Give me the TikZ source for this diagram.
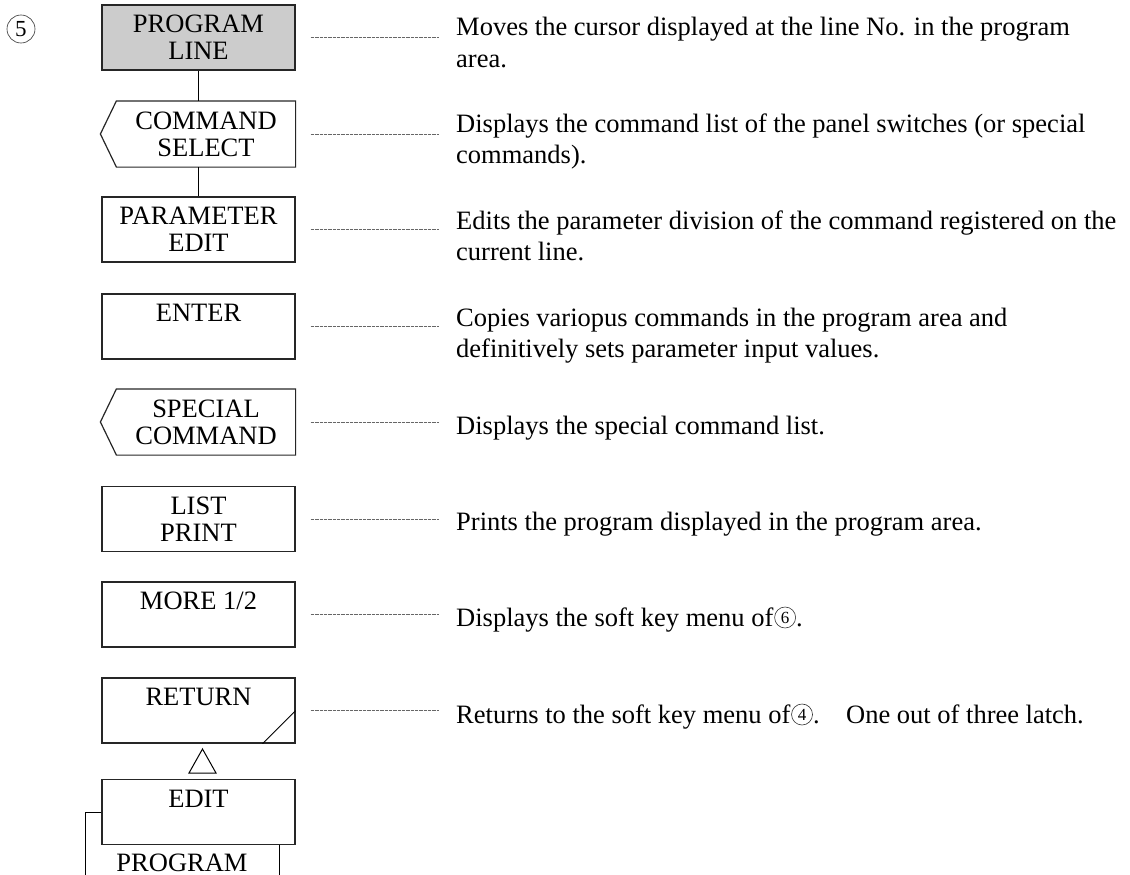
\documentclass[tikz,border=0pt]{standalone}
\usepackage{fontspec}
\setmainfont{Liberation Serif}
\newcommand{\keyfont}{\fontsize{26.5}{27}\selectfont}
\begin{document}
\begin{tikzpicture}[x=1pt,y=-1pt,
  keybox/.style={draw=black!85, line width=1.2pt, minimum width=193pt, minimum height=65pt,
    inner sep=0pt, align=center, font=\keyfont},
  notchbox/.style={keybox, draw=none, minimum width=178pt},
  keyline/.style={draw=black!85, line width=1.2pt},
  desc/.style={anchor=base west, inner sep=0pt, font=\fontsize{26.5}{31}\selectfont},
  circnum/.style={circle, draw=black!80, line width=0.6pt, inner sep=0pt, minimum size=21pt,
    font=\fontsize{17}{17}\selectfont},
  dotline/.style={draw=black!60, line width=0.6pt, dash pattern=on 0.5pt off 0.8pt},
  link/.style={draw=black, line width=1pt}]
\useasboundingbox (0,0) rectangle (1130,875);

\node[circnum, minimum size=28pt, font=\fontsize{23}{23}\selectfont] (num) at (21,29) {5};

% keys
\node[keybox, fill=black!20] (pl) at (198.5,37.5) {PROGRAM\\LINE};
\node[notchbox] (cs) at (206,134) {COMMAND\\SELECT};
\draw[keyline] (cs.north west) -- (cs.north east) -- (cs.south east) -- (cs.south west) -- ([xshift=-16pt]cs.west) -- cycle;
\node[keybox] (pe) at (198.5,229.5) {PARAMETER\\EDIT};
\node[keybox] (en) at (198.5,326.5) {ENTER\\\phantom{E}};
\node[notchbox] (sc) at (206,422) {SPECIAL\\COMMAND};
\draw[keyline] (sc.north west) -- (sc.north east) -- (sc.south east) -- (sc.south west) -- ([xshift=-16pt]sc.west) -- cycle;
\node[keybox] (lp) at (198.5,519) {LIST\\PRINT};
\node[keybox] (mo) at (198.5,614.5) {MORE 1/2\\\phantom{E}};
\node[keybox] (re) at (198.5,710.5) {RETURN\\\phantom{E}};
\draw[link] ([xshift=-33pt]re.south east) -- ([yshift=33pt]re.south east);
\node[keybox] (ed) at (198.5,812) {EDIT\\\phantom{E}};

% connectors
\draw[link] (pl.south) -- (pl.south |- cs.north);
\draw[link] (pl.south |- cs.south) -- (pe.north);
\draw[link] (202.5,749) -- (216,773) -- (189,773) -- cycle;
\draw[link] (ed.west) -- ++(-16,0) -- ++(0,70);
\draw[link] ([xshift=80.5pt]ed.south) -- ++(0,40);
\node[font=\keyfont, anchor=base, inner sep=0pt] (prog) at (182,871) {PROGRAM};

% dotted leaders
\foreach \n in {pl,cs,pe,en,sc,lp,mo,re}
  \draw[dotline] ([xshift=15pt]\n.east) -- ++(128,0);

% descriptions
\node[desc] (d1a) at (456,36) {Moves the cursor displayed at the line No. in the program};
\node[desc] (d1b) at (456,67) {area.};
\node[desc] (d2a) at (456,132) {Displays the command list of the panel switches (or special};
\node[desc] (d2b) at (456,163) {commands).};
\node[desc] (d3a) at (456,229) {Edits the parameter division of the command registered on the};
\node[desc] (d3b) at (456,260) {current line.};
\node[desc] (d4a) at (456,326) {Copies variopus commands in the program area and};
\node[desc] (d4b) at (456,357) {definitively sets parameter input values.};
\node[desc] (d5) at (456,434) {Displays the special command list.};
\node[desc] (d6) at (456,530) {Prints the program displayed in the program area.};
\node[desc] (d7) at (456,626) {Displays the soft key menu of};
\node[circnum] (c6) at ([xshift=11.5pt,yshift=8.5pt]d7.base east) {6};
\node[desc] (d7e) at (c6.east |- d7.base) {.};
\node[desc] (d8) at (456,723) {Returns to the soft key menu of};
\node[circnum] (c4) at ([xshift=11.5pt,yshift=8.5pt]d8.base east) {4};
\node[desc] (d8e) at (c4.east |- d8.base) {.\hspace{1em}One out of three latch.};
\end{tikzpicture}
\end{document}
